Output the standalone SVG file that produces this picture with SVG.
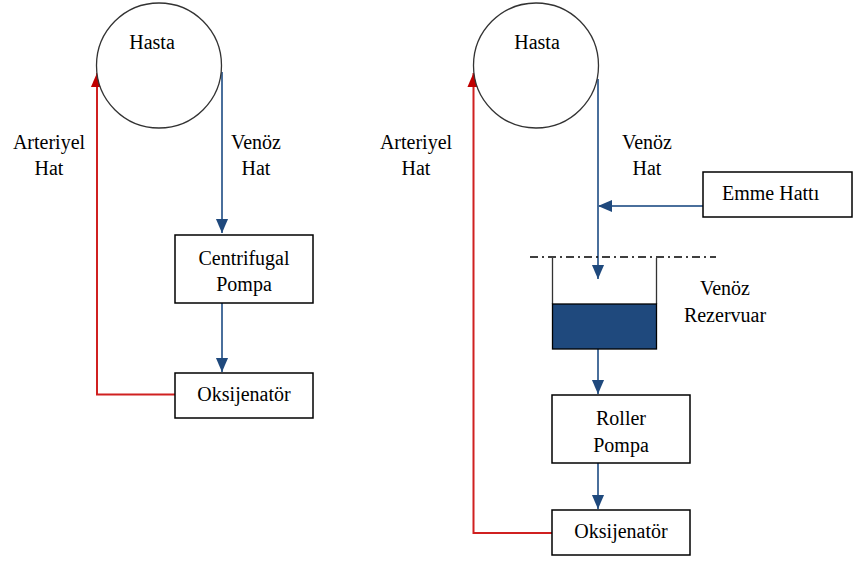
<svg xmlns="http://www.w3.org/2000/svg" width="854" height="561" viewBox="0 0 854 561">
<style>
.box{fill:#fff;stroke:#000;stroke-width:1.5}
.circ{fill:#fff;stroke:#333;stroke-width:1.3}
.blue{fill:none;stroke:#4a6f9c;stroke-width:2}
.red{fill:none;stroke:#d02020;stroke-width:2}
</style>
<defs>
<marker id="ab" markerUnits="userSpaceOnUse" markerWidth="14" markerHeight="16" refX="15" refY="6.5" orient="auto" viewBox="0 0 15 13">
<path d="M0,0 L15,6.5 L0,13 Z" fill="#1f497d"/>
</marker>
<marker id="ar" markerUnits="userSpaceOnUse" markerWidth="14" markerHeight="16" refX="15" refY="6.5" orient="auto" viewBox="0 0 15 13">
<path d="M0,0 L15,6.5 L0,13 Z" fill="#c00000"/>
</marker>
</defs>
<rect width="854" height="561" fill="#fff"/>
<g id="connectors">
<path class="blue" d="M222,72 L222,233" marker-end="url(#ab)"/>
<path class="blue" d="M222,303 L222,372" marker-end="url(#ab)"/>
<path class="red" d="M175,394.5 L97,394.5 L97,73" marker-end="url(#ar)"/>
<path class="blue" d="M598,79 L598,279" marker-end="url(#ab)"/>
<path class="blue" d="M703,206 L598,206" marker-end="url(#ab)"/>
<path class="blue" d="M598,349 L598,394" marker-end="url(#ab)"/>
<path class="blue" d="M598,463 L598,509" marker-end="url(#ab)"/>
<path class="red" d="M552,533 L473.5,533 L473.5,73" marker-end="url(#ar)"/>
</g>
<g id="hasta-left">
<circle class="circ" cx="159" cy="65.5" r="62.5"/>
<text x="152" y="49" font-size="20" font-family="Liberation Serif" text-anchor="middle">Hasta</text>
</g>
<g id="centrifugal">
<rect class="box" x="175" y="235" width="138" height="68"/>
<text x="244" y="265" font-size="20" font-family="Liberation Serif" text-anchor="middle">Centrifugal</text>
<text x="244" y="291" font-size="20" font-family="Liberation Serif" text-anchor="middle">Pompa</text>
</g>
<g id="oksijenator-left">
<rect class="box" x="175" y="373" width="138" height="45"/>
<text x="244" y="401" font-size="20" font-family="Liberation Serif" text-anchor="middle">Oksijenatör</text>
</g>
<g id="label-arteriyel-left">
<text x="49" y="149" font-size="20" font-family="Liberation Serif" text-anchor="middle">Arteriyel</text>
<text x="49" y="175" font-size="20" font-family="Liberation Serif" text-anchor="middle">Hat</text>
</g>
<g id="label-venoz-left">
<text x="256" y="149" font-size="20" font-family="Liberation Serif" text-anchor="middle">Venöz</text>
<text x="256" y="175" font-size="20" font-family="Liberation Serif" text-anchor="middle">Hat</text>
</g>
<g id="hasta-right">
<circle class="circ" cx="536" cy="65.5" r="62.5"/>
<text x="537" y="49" font-size="20" font-family="Liberation Serif" text-anchor="middle">Hasta</text>
</g>
<g id="label-arteriyel-right">
<text x="416" y="149" font-size="20" font-family="Liberation Serif" text-anchor="middle">Arteriyel</text>
<text x="416" y="175" font-size="20" font-family="Liberation Serif" text-anchor="middle">Hat</text>
</g>
<g id="label-venoz-right">
<text x="647" y="149" font-size="20" font-family="Liberation Serif" text-anchor="middle">Venöz</text>
<text x="647" y="175" font-size="20" font-family="Liberation Serif" text-anchor="middle">Hat</text>
</g>
<g id="emme-hatti">
<rect class="box" x="703" y="172" width="149" height="45"/>
<text x="722" y="200" font-size="20" font-family="Liberation Serif">Emme Hattı</text>
</g>
<g id="venoz-rezervuar">
<line x1="530" y1="257" x2="716" y2="257" stroke="#000" stroke-width="1.3" stroke-dasharray="8,4,2,4"/>
<path d="M552.5,258 L552.5,304 M656.5,258 L656.5,304" fill="none" stroke="#333" stroke-width="1.3"/>
<rect x="552.5" y="304" width="104" height="45" fill="#1f497d" stroke="#000" stroke-width="1.3"/>
<text x="725" y="295" font-size="20" font-family="Liberation Serif" text-anchor="middle">Venöz</text>
<text x="725" y="322" font-size="20" font-family="Liberation Serif" text-anchor="middle">Rezervuar</text>
</g>
<g id="roller">
<rect class="box" x="552" y="395" width="138" height="68"/>
<text x="621" y="425" font-size="20" font-family="Liberation Serif" text-anchor="middle">Roller</text>
<text x="621" y="452" font-size="20" font-family="Liberation Serif" text-anchor="middle">Pompa</text>
</g>
<g id="oksijenator-right">
<rect class="box" x="552" y="510" width="138" height="45"/>
<text x="621" y="538" font-size="20" font-family="Liberation Serif" text-anchor="middle">Oksijenatör</text>
</g>
</svg>
